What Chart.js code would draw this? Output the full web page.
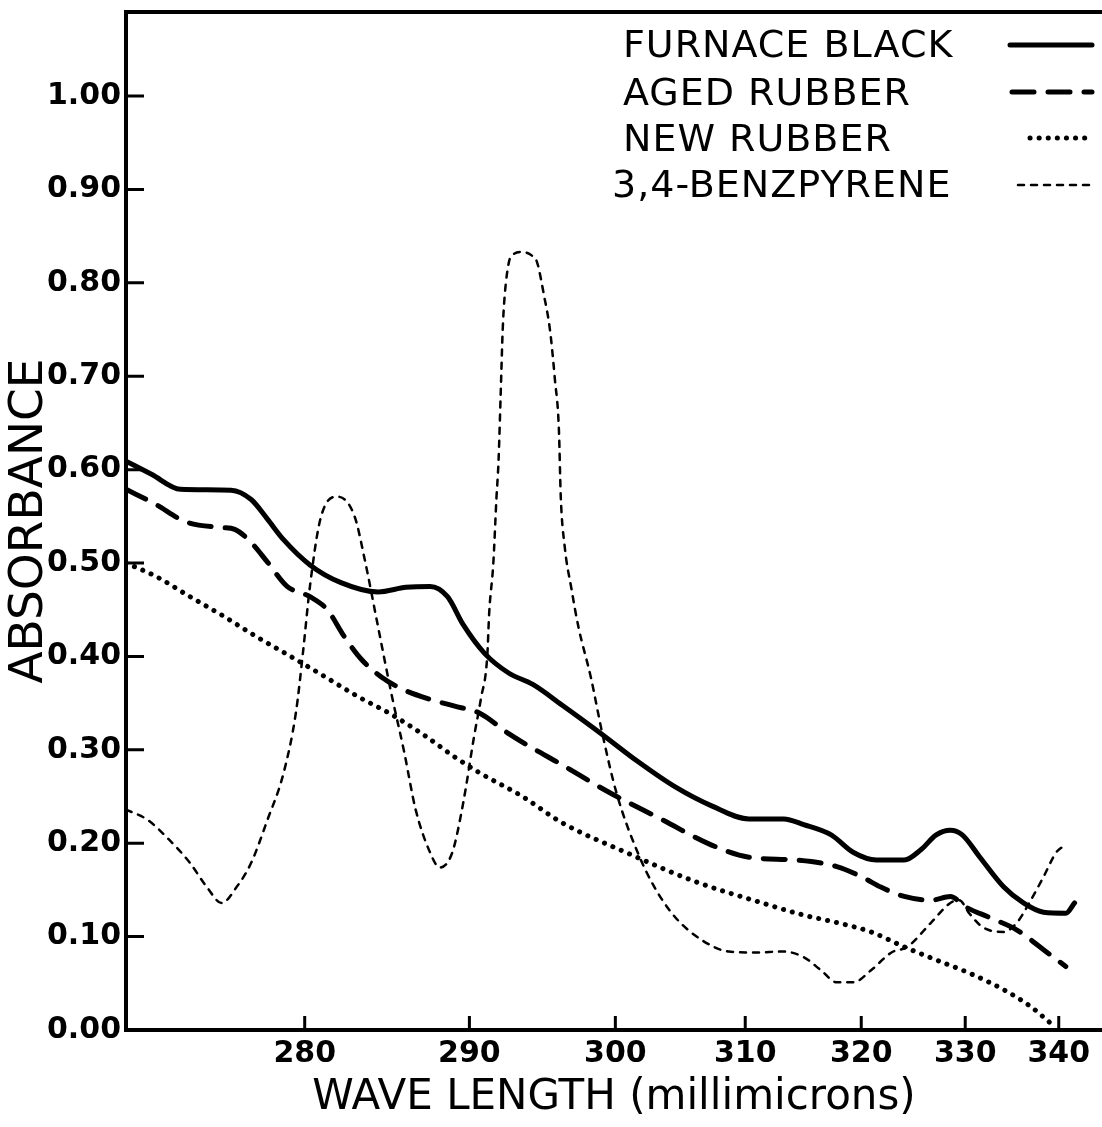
<!DOCTYPE html>
<html>
<head>
<meta charset="utf-8">
<title>Absorbance spectra</title>
<script src="https://cdn.jsdelivr.net/npm/chart.js@4.4.1/dist/chart.umd.min.js"></script>
<style>
  html, body { margin: 0; padding: 0; background: #fff; }
  #chart { display: block; }
</style>
</head>
<body>
<canvas id="chart" width="1102" height="1127"></canvas>
<script>
// tick labels
const X_TICKS = [280, 290, 300, 310, 320, 330, 340];
const Y_TICKS = [0, 0.1, 0.2, 0.3, 0.4, 0.5, 0.6, 0.7, 0.8, 0.9, 1.0];

// series (wavelength in millimicrons, absorbance)
const FURNACE_WL = [270.4, 271.7, 273.2, 275.9, 277.0, 277.9, 278.8, 280.3, 282.1, 284.3, 286.0, 287.5, 288.6, 289.6, 291.0, 292.6, 294.2, 296.2, 299.0, 301.6, 304.5, 307.3, 310.3, 313.2, 314.9, 317.3, 319.3, 321.4, 324.0, 325.6, 327.1, 328.5, 329.7, 331.5, 334.0, 336.1, 338.3, 340.8, 341.8];
const FURNACE_ABS = [0.609, 0.595, 0.579, 0.578, 0.568, 0.547, 0.525, 0.498, 0.479, 0.469, 0.474, 0.475, 0.464, 0.434, 0.403, 0.382, 0.370, 0.348, 0.317, 0.288, 0.260, 0.240, 0.226, 0.226, 0.220, 0.209, 0.190, 0.182, 0.182, 0.193, 0.209, 0.214, 0.209, 0.185, 0.153, 0.136, 0.126, 0.125, 0.136];

const AGED_WL = [270.4, 271.9, 273.5, 275.4, 276.1, 277.0, 277.9, 279.0, 280.3, 281.3, 282.3, 283.3, 284.5, 285.9, 287.5, 289.0, 290.7, 292.6, 294.6, 296.2, 299.6, 303.5, 307.3, 310.3, 314.2, 317.8, 320.2, 321.8, 324.0, 326.6, 328.5, 330.0, 332.6, 335.4, 338.3, 340.8];
const AGED_ABS = [0.579, 0.563, 0.544, 0.538, 0.536, 0.522, 0.501, 0.475, 0.464, 0.450, 0.421, 0.397, 0.378, 0.364, 0.354, 0.347, 0.339, 0.317, 0.298, 0.284, 0.254, 0.225, 0.198, 0.185, 0.182, 0.175, 0.163, 0.153, 0.143, 0.139, 0.143, 0.132, 0.120, 0.107, 0.086, 0.068];

const NEW_WL = [270.4, 271.9, 273.7, 275.5, 277.3, 279.2, 281.1, 283.1, 285.1, 287.1, 289.0, 290.7, 293.5, 296.2, 300.8, 306.0, 311.4, 314.9, 317.8, 320.9, 324.0, 327.1, 330.4, 334.0, 336.9, 339.0];
const NEW_ABS = [0.500, 0.486, 0.464, 0.443, 0.421, 0.400, 0.379, 0.357, 0.338, 0.316, 0.293, 0.275, 0.250, 0.222, 0.190, 0.159, 0.136, 0.123, 0.115, 0.105, 0.089, 0.075, 0.061, 0.043, 0.025, 0.008];

const BENZ_WL = [270.4, 271.5, 272.6, 273.7, 274.6, 275.4, 276.2, 277.0, 277.9, 278.8, 279.5, 279.9, 280.3, 280.9, 281.9, 282.9, 283.5, 284.3, 285.1, 285.9, 286.6, 287.5, 288.1, 288.9, 289.6, 290.3, 290.75, 291.16, 291.29, 291.56, 291.77, 291.9, 292.04, 292.18, 292.31, 292.59, 292.79, 293.47, 294.15, 294.49, 294.97, 295.37, 295.71, 295.99, 296.12, 296.39, 296.87, 297.35, 298.23, 299.05, 300.08, 301.64, 302.89, 304.45, 306.56, 308.67, 310.79, 313.16, 314.9, 316.4, 317.8, 319.3, 320.9, 322.8, 324.3, 326.6, 328.5, 329.4, 330.4, 331.8, 334.0, 335.4, 336.9, 338.3, 339.7, 340.4];
const BENZ_ABS = [0.236, 0.225, 0.204, 0.179, 0.153, 0.136, 0.153, 0.179, 0.225, 0.275, 0.340, 0.404, 0.475, 0.547, 0.571, 0.550, 0.504, 0.432, 0.361, 0.297, 0.236, 0.190, 0.174, 0.190, 0.243, 0.314, 0.355, 0.400, 0.447, 0.500, 0.571, 0.608, 0.678, 0.750, 0.786, 0.822, 0.829, 0.833, 0.829, 0.822, 0.786, 0.750, 0.697, 0.643, 0.571, 0.518, 0.472, 0.432, 0.378, 0.318, 0.254, 0.190, 0.153, 0.121, 0.096, 0.084, 0.083, 0.084, 0.078, 0.064, 0.051, 0.051, 0.064, 0.083, 0.089, 0.115, 0.136, 0.139, 0.125, 0.110, 0.105, 0.115, 0.139, 0.164, 0.190, 0.196];

const pairs = (xs, ys) => xs.map((x, i) => ({ x: x, y: ys[i] }));

// the wavelength axis of the original is not linear: spacing shrinks like 1/λ^2.5
const WAVE_POWER = 2.5;
class WaveScale extends Chart.LinearScale {
    static id = 'wave';
    static defaults = Chart.LinearScale.defaults;
    getPixelForValue(value) {
        const a = Math.pow(this.min, -WAVE_POWER);
        const b = Math.pow(this.max, -WAVE_POWER);
        return this.getPixelForDecimal((a - Math.pow(value, -WAVE_POWER)) / (a - b));
    }
    getValueForPixel(pixel) {
        const a = Math.pow(this.min, -WAVE_POWER);
        const b = Math.pow(this.max, -WAVE_POWER);
        const t = this.getDecimalForPixel(pixel);
        return Math.pow(a - t * (a - b), -1 / WAVE_POWER);
    }
}
Chart.register(WaveScale);

// inward tick marks and the top frame line
const frameTicks = {
    id: 'frameTicks',
    afterDraw(chart, args, opts) {
        const { ctx, chartArea, scales } = chart;
        ctx.save();
        ctx.strokeStyle = '#000';
        ctx.lineWidth = 3;
        ctx.beginPath();
        scales.y.ticks.forEach((t, i) => {
            const py = scales.y.getPixelForTick(i);
            ctx.moveTo(chartArea.left, py);
            ctx.lineTo(chartArea.left + opts.yLen, py);
        });
        scales.x.ticks.forEach((t, i) => {
            const px = scales.x.getPixelForTick(i);
            ctx.moveTo(px, chartArea.bottom);
            ctx.lineTo(px, chartArea.bottom - opts.xLen);
        });
        ctx.stroke();
        ctx.lineWidth = 4;
        ctx.beginPath();
        ctx.moveTo(chartArea.left - 2, chartArea.top);
        ctx.lineTo(chartArea.right, chartArea.top);
        ctx.stroke();
        ctx.restore();
    }
};

// legend: text on the left, line sample on the right
const lineLegend = {
    id: 'lineLegend',
    afterDraw(chart, args, opts) {
        const ctx = chart.ctx;
        ctx.save();
        ctx.fillStyle = '#000';
        ctx.font = opts.font;
        ctx.letterSpacing = opts.letterSpacing;
        ctx.textBaseline = 'middle';
        chart.data.datasets.forEach((ds, i) => {
            const row = opts.rows[i];
            ctx.fillText(ds.label, row.textX, row.textY);
            ctx.strokeStyle = ds.borderColor;
            ctx.lineWidth = ds.borderWidth;
            ctx.lineCap = ds.borderCapStyle || 'butt';
            ctx.setLineDash(ds.borderDash || []);
            ctx.beginPath();
            ctx.moveTo(row.lineX1, row.lineY);
            ctx.lineTo(row.lineX2, row.lineY);
            ctx.stroke();
        });
        ctx.restore();
    }
};

Chart.defaults.font.family = "'DejaVu Sans', sans-serif";
Chart.defaults.color = '#000';

new Chart(document.getElementById('chart'), {
    type: 'line',
    data: {
        datasets: [
            {
                label: 'FURNACE BLACK',
                data: pairs(FURNACE_WL, FURNACE_ABS),
                borderColor: '#000',
                borderWidth: 5,
                borderCapStyle: 'round'
            },
            {
                label: 'AGED RUBBER',
                data: pairs(AGED_WL, AGED_ABS),
                borderColor: '#000',
                borderWidth: 5,
                borderDash: [22, 14],
                borderCapStyle: 'round'
            },
            {
                label: 'NEW RUBBER',
                data: pairs(NEW_WL, NEW_ABS),
                borderColor: '#000',
                borderWidth: 5,
                borderDash: [0.1, 9],
                borderCapStyle: 'round'
            },
            {
                label: '3,4-BENZPYRENE',
                data: pairs(BENZ_WL, BENZ_ABS),
                borderColor: '#000',
                borderWidth: 2.5,
                borderDash: [6, 7],
                borderCapStyle: 'round'
            }
        ]
    },
    options: {
        responsive: false,
        animation: false,
        layout: { padding: { top: 12, right: 0, bottom: 0, left: 0 } },
        elements: {
            point: { radius: 0 },
            line: { cubicInterpolationMode: 'monotone', fill: false }
        },
        plugins: {
            legend: { display: false },
            tooltip: { enabled: false },
            frameTicks: { xLen: 14, yLen: 18 },
            lineLegend: {
                font: "38px 'DejaVu Sans', sans-serif",
                letterSpacing: '1px',
                rows: [
                    { textX: 623, textY: 47, lineX1: 1010, lineX2: 1092, lineY: 45 },
                    { textX: 623, textY: 95, lineX1: 1012, lineX2: 1092, lineY: 92 },
                    { textX: 623, textY: 141, lineX1: 1030, lineX2: 1088, lineY: 138 },
                    { textX: 612, textY: 187, lineX1: 1018, lineX2: 1092, lineY: 185 }
                ]
            }
        },
        scales: {
            x: {
                type: 'wave',
                min: 270.4,
                max: 345,
                afterFit: s => { s.height = 97; s.paddingLeft = 0; s.paddingRight = 0; },
                afterBuildTicks: s => { s.ticks = X_TICKS.map(v => ({ value: v })); },
                grid: { display: false, drawTicks: false },
                border: { display: true, color: '#000', width: 4 },
                ticks: {
                    autoSkip: false,
                    maxRotation: 0,
                    padding: 6,
                    font: { size: 30, weight: 'bold' },
                    callback: v => String(v)
                },
                title: {
                    display: true,
                    text: 'WAVE LENGTH (millimicrons)',
                    font: { size: 42 },
                    padding: { top: 0, bottom: 4 }
                }
            },
            y: {
                min: 0,
                max: 1.09,
                afterFit: s => { s.width = 126; s.paddingTop = 0; s.paddingBottom = 0; },
                afterBuildTicks: s => { s.ticks = Y_TICKS.map(v => ({ value: v })); },
                grid: { display: false, drawTicks: false },
                border: { display: true, color: '#000', width: 4 },
                ticks: {
                    autoSkip: false,
                    padding: 5,
                    font: { size: 30, weight: 'bold' },
                    callback: v => v.toFixed(2)
                },
                title: {
                    display: true,
                    text: 'ABSORBANCE',
                    font: { size: 47 },
                    padding: { top: 2, bottom: 0 }
                }
            }
        }
    },
    plugins: [frameTicks, lineLegend]
});
</script>
</body>
</html>
